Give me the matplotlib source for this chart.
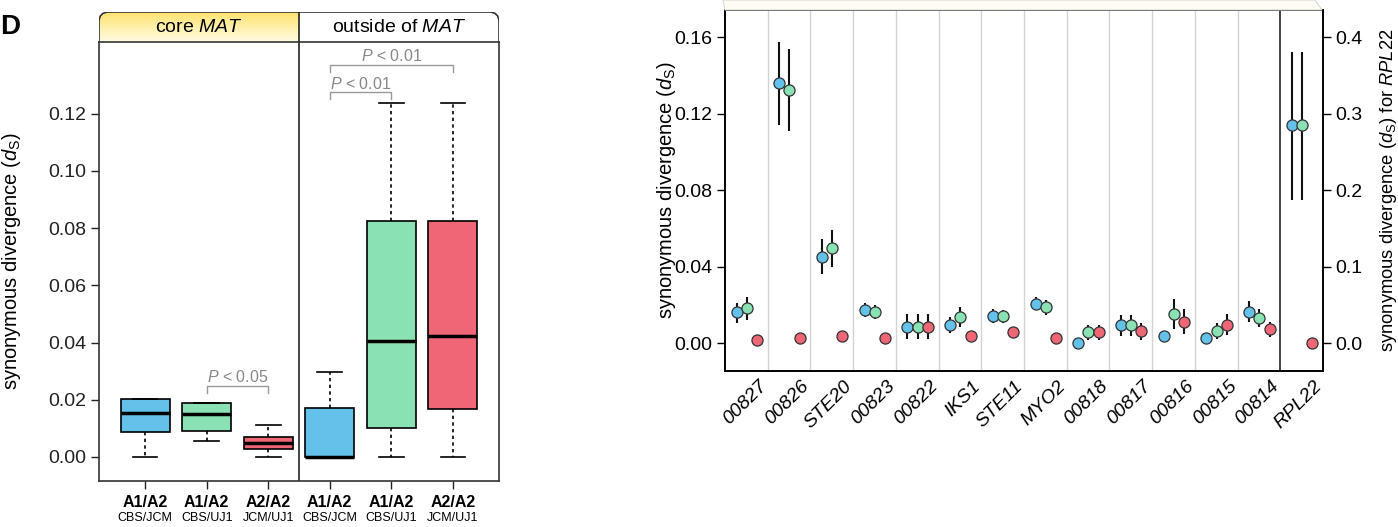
import matplotlib
matplotlib.use("Agg")
import matplotlib.pyplot as plt
import matplotlib.transforms as mtransforms
from matplotlib.path import Path
from matplotlib.patches import PathPatch, Polygon
import numpy as np

plt.rcParams['font.family'] = ['Liberation Sans', 'DejaVu Sans']
plt.rcParams['mathtext.fontset'] = 'custom'
plt.rcParams['mathtext.rm'] = 'Liberation Sans'
plt.rcParams['mathtext.it'] = 'Liberation Sans:italic'
plt.rcParams['mathtext.bf'] = 'Liberation Sans:bold'

nan = np.nan

# --- boxplot data (panel left) ---
box_pairs = ['A1/A2', 'A1/A2', 'A2/A2', 'A1/A2', 'A1/A2', 'A2/A2']
box_strains = ['CBS/JCM', 'CBS/UJ1', 'JCM/UJ1', 'CBS/JCM', 'CBS/UJ1', 'JCM/UJ1']
box_whislo = [0.0, 0.0056, 0.0, 0.0, 0.0, 0.0]
box_q1 = [0.0087, 0.0092, 0.0027, 0.0, 0.0100, 0.0168]
box_med = [0.0153, 0.0149, 0.0048, 0.0, 0.0405, 0.0423]
box_q3 = [0.0204, 0.0187, 0.0071, 0.0172, 0.0826, 0.0826]
box_whishi = [0.0204, 0.0187, 0.0113, 0.0297, 0.1239, 0.1239]

# --- per gene d_S (panel right) ---
genes = ['00827', '00826', 'STE20', '00823', '00822', 'IKS1', 'STE11',
         'MYO2', '00818', '00817', '00816', '00815', '00814', 'RPL22']

blue_ds = [0.0162, 0.1360, 0.0453, 0.0174, 0.0087, 0.0096, 0.0143, 0.0204, 0.0000, 0.0096, 0.0038, 0.0031, 0.0165]
blue_lo = [0.0105, 0.1140, 0.0362, 0.0136, 0.0024, 0.0055, 0.0106, 0.0174, nan, 0.0038, nan, nan, 0.0111]
blue_hi = [0.0214, 0.1574, 0.0547, 0.0212, 0.0152, 0.0136, 0.0181, 0.0244, nan, 0.0148, nan, nan, 0.0220]

green_ds = [0.0183, 0.1325, 0.0497, 0.0164, 0.0087, 0.0139, 0.0144, 0.0190, 0.0058, 0.0096, 0.0152, 0.0063, 0.0131]
green_lo = [0.0122, 0.1110, 0.0401, 0.0126, 0.0024, 0.0087, 0.0108, 0.0150, 0.0017, 0.0038, 0.0078, 0.0021, 0.0084]
green_hi = [0.0241, 0.1541, 0.0593, 0.0202, 0.0152, 0.0188, 0.0174, 0.0226, 0.0096, 0.0148, 0.0230, 0.0105, 0.0178]

red_ds = [0.0017, 0.0029, 0.0037, 0.0026, 0.0087, 0.0037, 0.0061, 0.0031, 0.0058, 0.0063, 0.0113, 0.0099, 0.0073]
red_lo = [nan, nan, nan, nan, 0.0024, nan, nan, nan, 0.0017, 0.0017, 0.0047, 0.0043, 0.0035]
red_hi = [nan, nan, nan, nan, 0.0152, nan, nan, nan, 0.0096, 0.0105, 0.0178, 0.0152, 0.0113]

# RPL22 (right axis): blue, green, red
rpl22_ds = [0.285, 0.285, 0.0]
rpl22_lo = [0.188, 0.188, nan]
rpl22_hi = [0.381, 0.381, nan]

BLUE = '#63C1EA'
GREEN = '#8AE1B4'
RED = '#EF6676'
colors = [BLUE, GREEN, RED, BLUE, GREEN, RED]
offsets = [-0.23, 0.01, 0.25]

fig = plt.figure(figsize=(13.98, 5.27), dpi=100)
W, H = 1398, 527


def frac(x0, y0, x1, y1):
    # pixel box (top-left origin) -> figure fraction rect
    return [x0 / W, 1 - y1 / H, (x1 - x0) / W, (y1 - y0) / H]


# ===================== left panel =====================
ax = fig.add_axes(frac(99, 42, 499, 481))
pos = np.arange(1, 7)
stats = []
for i in range(6):
    stats.append(dict(med=box_med[i], q1=box_q1[i], q3=box_q3[i],
                      whislo=box_whislo[i], whishi=box_whishi[i], fliers=[]))
bp = ax.bxp(stats, positions=pos, widths=0.8, patch_artist=True, showfliers=False,
            boxprops=dict(edgecolor='black', linewidth=1.2),
            whiskerprops=dict(color='black', linewidth=1.2, linestyle=(0, (2, 2))),
            capprops=dict(color='black', linewidth=1.2),
            medianprops=dict(color='black', linewidth=2.5),
            capwidths=0.4)
for patch, c in zip(bp['boxes'], colors):
    patch.set_facecolor(c)

ax.set_xlim(0.25, 6.75)
ax.set_ylim(-0.0084, 0.1451)
ax.axvline(3.5, color='#222222', lw=1.2)
ax.set_yticks([0, 0.02, 0.04, 0.06, 0.08, 0.10, 0.12])
ax.set_yticklabels(['0.00', '0.02', '0.04', '0.06', '0.08', '0.10', '0.12'])
ax.set_xticks(pos)
ax.set_xticklabels([''] * 6)
ax.tick_params(axis='both', direction='out', length=5.5, width=1, labelsize=14, colors='#222222')
for s in ax.spines.values():
    s.set_color('#333333')
    s.set_linewidth(1.2)
ax.set_ylabel(r'synonymous divergence ($d_\mathrm{S}$)', fontsize=14.5)
ax.yaxis.set_label_coords(-0.19, 0.5)

xt = mtransforms.blended_transform_factory(ax.transData, ax.transAxes)
for p, a, b in zip(pos, box_pairs, box_strains):
    ax.text(p, -0.048, a, transform=xt, ha='center', va='center', fontsize=11.5, fontweight='bold')
    ax.text(p, -0.085, b, transform=xt, ha='center', va='center', fontsize=9)

# significance brackets
brackets = [(2, 3, 0.0248, 0.0224), (4, 5, 0.1275, 0.1253), (4, 6, 0.1371, 0.1347)]
btext = [r'$P$ < 0.05', r'$P$ < 0.01', r'$P$ < 0.01']
for (x1, x2, y, yl), t in zip(brackets, btext):
    ax.plot([x1, x1, x2, x2], [yl, y, y, yl], color='#999999', lw=1, clip_on=False)
    ax.text((x1 + x2) / 2, y + 0.0013, t, ha='center', va='baseline', fontsize=11.5, color='#888888')

# header with rounded top corners
hax = fig.add_axes(frac(99, 12, 499, 42))
hax.axis('off')
r = 10
verts = [(0, 0), (0, 30 - r), (0, 30), (r, 30), (400 - r, 30), (400, 30), (400, 30 - r), (400, 0), (0, 0)]
codes = [Path.MOVETO, Path.LINETO, Path.CURVE3, Path.CURVE3, Path.LINETO,
         Path.CURVE3, Path.CURVE3, Path.LINETO, Path.CLOSEPOLY]
hpath = Path(verts, codes)
bg = PathPatch(hpath, facecolor='white', edgecolor='none', zorder=0)
hax.add_patch(bg)
grad = np.linspace(0, 1, 64).reshape(-1, 1)
top_c = np.array([1.0, 0.89, 0.43])
bot_c = np.array([1.0, 0.985, 0.90])
img = top_c[None, None, :] * (1 - grad[:, :, None]) + bot_c[None, None, :] * grad[:, :, None]
im = hax.imshow(img, extent=(0, 200, 0, 30), aspect='auto', origin='upper', zorder=1)
im.set_clip_path(bg)
outline = PathPatch(hpath, facecolor='none', edgecolor='#333333', lw=1.2, zorder=2)
hax.add_patch(outline)
hax.plot([200, 200], [0, 30], color='#222222', lw=1.2, zorder=2)
hax.text(100, 14, r'core $\mathit{MAT}$', ha='center', va='center', fontsize=14, zorder=3)
hax.text(300, 14, r'outside of $\mathit{MAT}$', ha='center', va='center', fontsize=14, zorder=3)
hax.set_xlim(0, 400)
hax.set_ylim(0, 30)

fig.text(0 / W, 1 - 27 / H, 'D', fontsize=20, fontweight='bold', ha='left', va='center')

# ===================== right panel =====================
# faint strip above the panel
strip = Polygon([(723 / W, 1.0), (725 / W, 1 - 10 / H), (1322 / W, 1 - 10 / H), (1315 / W, 1.0)],
                closed=True, transform=fig.transFigure, facecolor='#FFFCF4', edgecolor='#d8d8d8', lw=0.8)
fig.patches.append(strip)

ax3 = fig.add_axes(frac(725, 10, 1323, 371))
ax3.set_xlim(-0.5, 13.5)
ax3.set_ylim(-0.0144, 0.1743)
for i in range(12):
    ax3.axvline(i + 0.5, color='#d3d3d3', lw=1, zorder=0)
ax3.axvline(12.5, color='#222222', lw=1.2, zorder=1)

xg = np.arange(13)
series = [(blue_ds, blue_lo, blue_hi, BLUE), (green_ds, green_lo, green_hi, GREEN),
          (red_ds, red_lo, red_hi, RED)]
for k, (v, lo, hi, c) in enumerate(series):
    xs = xg + offsets[k]
    ax3.vlines(xs, lo, hi, color='#111111', lw=1.5, zorder=2)
    ax3.plot(xs, v, 'o', ms=8, mfc=c, mec='#333333', mew=0.9, zorder=3)

ax3.set_yticks([0, 0.04, 0.08, 0.12, 0.16])
ax3.set_yticklabels(['0.00', '0.04', '0.08', '0.12', '0.16'])
ax3.set_xticks([])
ax3.tick_params(axis='y', direction='out', length=5.5, width=1, labelsize=14)
for s in ax3.spines.values():
    s.set_color('black')
    s.set_linewidth(1.2)
ax3.set_ylabel(r'synonymous divergence ($d_\mathrm{S}$)', fontsize=14.5)
ax3.yaxis.set_label_coords(-0.079, 0.5)

ax4 = ax3.twinx()
ax4.set_ylim(-0.0144 * 2.5, 0.1743 * 2.5)
for k, c in enumerate([BLUE, GREEN, RED]):
    x = 13 + offsets[k]
    if not np.isnan(rpl22_lo[k]):
        ax4.vlines(x, rpl22_lo[k], rpl22_hi[k], color='#111111', lw=1.5, zorder=2)
    ax4.plot(x, rpl22_ds[k], 'o', ms=8, mfc=c, mec='#333333', mew=0.9, zorder=3)
ax4.set_yticks([0, 0.1, 0.2, 0.3, 0.4])
ax4.set_yticklabels(['0.0', '0.1', '0.2', '0.3', '0.4'])
ax4.tick_params(axis='y', direction='out', length=5.5, width=1, labelsize=14)
for s in ax4.spines.values():
    s.set_color('black')
    s.set_linewidth(1.2)
ax4.set_ylabel(r'synonymous divergence ($d_\mathrm{S}$) for $\mathit{RPL22}$', fontsize=13.2)
ax4.yaxis.set_label_coords(1.092, 0.5)

lt = mtransforms.blended_transform_factory(ax3.transData, ax3.transAxes) + \
    mtransforms.ScaledTranslation(0.21, -0.16, fig.dpi_scale_trans)
for i, g in enumerate(genes):
    ax3.text(i, 0, g, transform=lt, ha='right', va='baseline', rotation=45,
             rotation_mode='anchor', fontsize=14, style='italic')

fig.savefig('out.png', dpi=100)
